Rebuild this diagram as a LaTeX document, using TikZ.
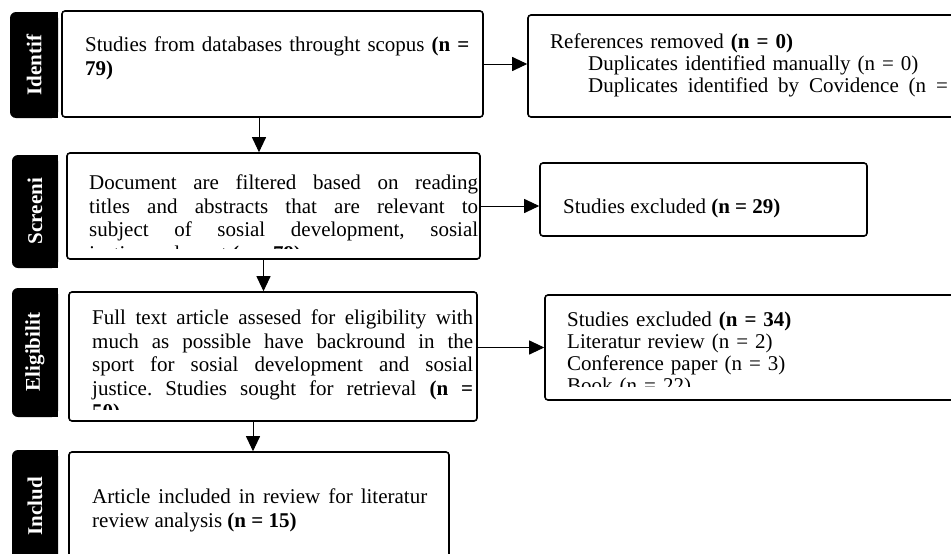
\documentclass[tikz,border=0pt]{standalone}
\usepackage{fontspec}
\setmainfont{Liberation Serif}
\usetikzlibrary{arrows.meta}
\frenchspacing

\tikzset{
  box/.style={draw, line width=1.6pt, rounded corners=3pt, inner sep=0pt},
  txt/.style={anchor=north west, inner sep=0pt, align=justify, font=\fontsize{21}{23.5}\selectfont},
  tight/.style={font=\fontsize{21}{22}\selectfont},
  stage/.style={text=white, inner sep=0pt, rotate=90, font=\fontsize{21}{24}\selectfont\bfseries},
  arr/.style={line width=1pt, -{Triangle[length=15pt,width=14pt]}}
}

\begin{document}
\begin{tikzpicture}[x=1pt, y=-1pt]
  \useasboundingbox (0,0) rectangle (951,554);
  \clip (0,0) rectangle (951,554);

  \fill[rounded corners=6pt] (10,12) rectangle (58,118);
  \fill (34,12) rectangle (58,118);
  \node[stage] (ident) at (34,65) {Identif};
  \fill[rounded corners=6pt] (12,155) rectangle (58,268);
  \fill (34,155) rectangle (58,268);
  \node[stage] (screen) at (35,211) {Screeni};
  \fill[rounded corners=6pt] (12,288) rectangle (58,417);
  \fill (34,288) rectangle (58,417);
  \node[stage] (elig) at (35,352) {Eligibilit};
  \fill[rounded corners=6pt] (12,450) rectangle (58,580);
  \fill (34,450) rectangle (58,580);
  \node[stage] (incl) at (35,506) {Includ};

  \node[box, minimum width=421pt, minimum height=106pt] (id) at (272.5,64) {};
  \node[box, minimum width=437pt, minimum height=102pt] (rem) at (746.5,66) {};
  \node[box, minimum width=413pt, minimum height=106pt] (scr) at (273.5,206) {};
  \node[box, minimum width=327pt, minimum height=73pt] (exc1) at (703.5,199.5) {};
  \node[box, minimum width=408pt, minimum height=129pt] (eli) at (273,356.5) {};
  \node[box, minimum width=420pt, minimum height=105pt] (exc2) at (755,347.5) {};
  \node[box, minimum width=380pt, minimum height=123pt] (inc) at (259,513.5) {};

  \node[txt, text width=390pt, align=left] (idtxt) at (85,37)
    {Studies from databases throught scopus \textbf{(n =}\\\textbf{79)}};
  \node[txt, tight, text width=420pt, align=left] (remtxt) at (550,34)
    {References removed \textbf{(n = 0)}\\
     \hspace*{38pt}Duplicates identified manually (n = 0)\\
     \hspace*{38pt}\makebox[387pt][l]{Duplicates\hfill identified\hfill by\hfill Covidence\hfill (n\hfill =\hfill 0)}};
  \begin{scope}
    \clip (scr.north west) rectangle ([yshift=11pt]scr.south east);
    \node[txt, text width=389pt] (scrtxt) at (89,175)
      {Document are filtered based on reading\linebreak titles and abstracts that are relevant to\linebreak subject of sosial development, sosial\linebreak justice and sport \textbf{(n = 79)}};
  \end{scope}
  \node[txt, anchor=base west] (exc1txt) at (563,213) {Studies excluded \textbf{(n = 29)}};
  \begin{scope}
    \clip (eli.north west) rectangle ([yshift=12pt]eli.south east);
    \node[txt, text width=381pt] (elitxt) at (92,310)
      {Full text article assesed for eligibility with\linebreak much as possible have backround in the\linebreak sport for sosial development and sosial\linebreak justice. Studies sought for retrieval \textbf{(n =}\linebreak \textbf{50)}};
  \end{scope}
  \begin{scope}
    \clip (exc2.north west) rectangle ([yshift=14pt]exc2.south east);
    \node[txt, tight, text width=300pt, align=left] (exc2txt) at (567,312)
      {Studies excluded \textbf{(n = 34)}\\Literatur review (n = 2)\\Conference paper (n = 3)\\Book (n = 22)};
  \end{scope}
  \node[txt, text width=335pt] (inctxt) at (92,489)
    {Article included in review for literatur\linebreak review analysis \textbf{(n = 15)}};

  \draw[arr] (id.east) -- (id.east -| rem.west);
  \draw[arr] ([xshift=-13.5pt]id.south) -- ([xshift=-13.5pt]id.south |- scr.north);
  \draw[arr] (scr.east) -- (scr.east -| exc1.west);
  \draw[arr] ([xshift=-10pt]scr.south) -- ([xshift=-10pt]scr.south |- eli.north);
  \draw[arr] (eli.east |- exc2.west) -- (exc2.west);
  \draw[arr] ([xshift=-20pt]eli.south) -- ([xshift=-20pt]eli.south |- inc.north);
\end{tikzpicture}
\end{document}
